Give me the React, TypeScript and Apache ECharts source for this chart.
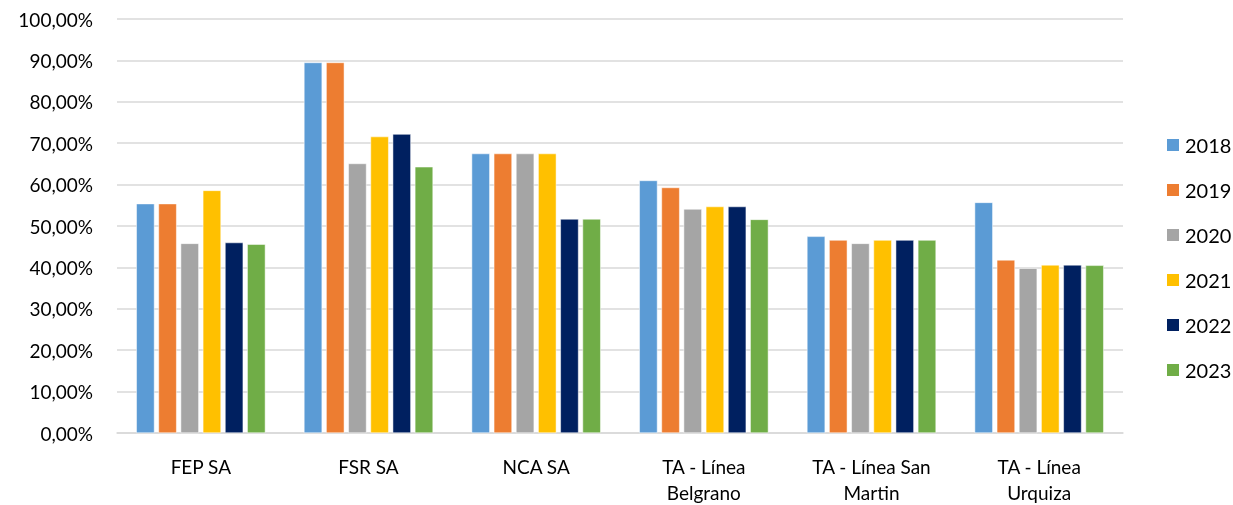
import React, { useEffect, useRef } from "react";
import * as echarts from "echarts";

const categories = ["FEP SA", "FSR SA", "NCA SA", "TA - Línea\nBelgrano", "TA - Línea San\nMartin", "TA - Línea\nUrquiza"];
const years = ["2018", "2019", "2020", "2021", "2022", "2023"];
const colors = ["#5B9BD5", "#ED7D31", "#A5A5A5", "#FFC000", "#002060", "#70AD47"];
const v2018 = [55.4, 89.5, 67.5, 61.0, 47.5, 55.7];
const v2019 = [55.4, 89.5, 67.5, 59.3, 46.6, 41.8];
const v2020 = [45.8, 65.1, 67.5, 54.1, 45.8, 39.8];
const v2021 = [58.6, 71.6, 67.5, 54.7, 46.6, 40.6];
const v2022 = [46.0, 72.2, 51.7, 54.7, 46.6, 40.6];
const v2023 = [45.6, 64.3, 51.7, 51.6, 46.6, 40.5];
const seriesValues = [v2018, v2019, v2020, v2021, v2022, v2023];

const FONT = "Lato, 'Open Sans', sans-serif";

export default function App() {
  const ref = useRef<HTMLDivElement>(null);
  useEffect(() => {
    if (!ref.current) return;
    const chart = echarts.init(ref.current, null, { renderer: "svg" });
    chart.setOption({
      animation: false,
      grid: { left: 117, right: 110, top: 19, bottom: 71 },
      legend: {
        orient: "vertical",
        left: 1160,
        top: 130,
        itemWidth: 14,
        itemHeight: 14,
        itemGap: 25,
        icon: "rect",
        textStyle: { fontFamily: FONT, fontSize: 20, color: "#000" },
        data: years,
      },
      xAxis: {
        type: "category",
        data: categories,
        axisLine: { lineStyle: { color: "#d9d9d9", width: 1.5 } },
        axisTick: { show: false },
        axisLabel: { fontFamily: FONT, fontSize: 19, color: "#000", lineHeight: 26, margin: 20 },
      },
      yAxis: {
        type: "value",
        min: 0,
        max: 100,
        interval: 10,
        axisLine: { show: false },
        axisTick: { show: false },
        splitLine: { lineStyle: { color: "#d9d9d9", width: 1.5 } },
        axisLabel: {
          fontFamily: FONT,
          fontSize: 19,
          color: "#000",
          margin: 24,
          formatter: (v: number) => v.toFixed(2).replace(".", ",") + "%",
        },
      },
      series: years.map((y, i) => ({
        name: y,
        type: "bar",
        data: seriesValues[i],
        itemStyle: { color: colors[i], borderColor: "#fff", borderWidth: 0.5 },
        barGap: "22%",
        barCategoryGap: "23%",
      })),
    });
    return () => chart.dispose();
  }, []);
  return <div ref={ref} style={{ position: "fixed", left: 0, top: 0, width: 1233, height: 505 }} />;
}
